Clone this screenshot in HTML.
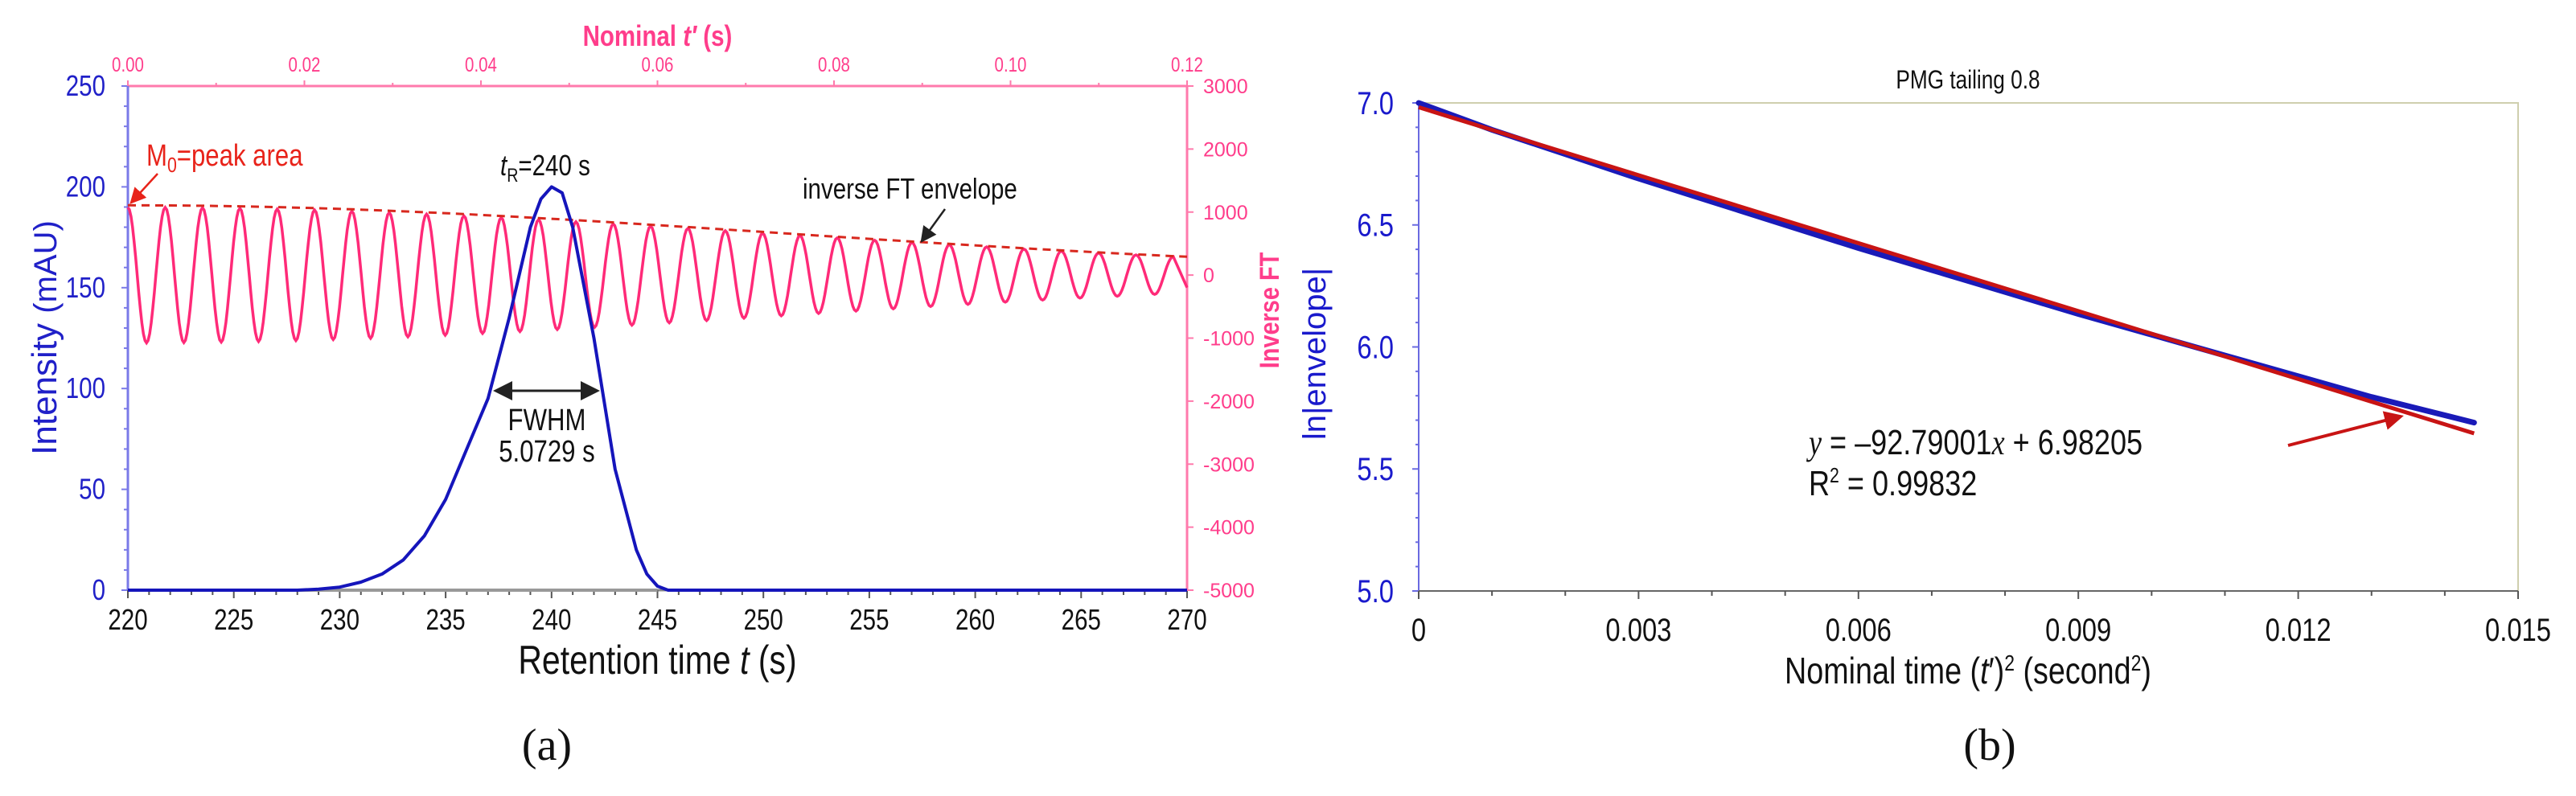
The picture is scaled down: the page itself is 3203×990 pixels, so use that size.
<!DOCTYPE html>
<html><head><meta charset="utf-8">
<style>
html,body{margin:0;padding:0;background:#fff;}
svg{display:block;}
.n{font-family:"Liberation Sans Narrow","Liberation Sans",sans-serif;}
.s{font-family:"Liberation Sans",sans-serif;}
.sf{font-family:"Liberation Serif",serif;}
</style></head>
<body>
<svg id="fig" width="3203" height="990" viewBox="0 0 3203 990" xmlns="http://www.w3.org/2000/svg">
<defs>
<marker id="arrK" markerWidth="8" markerHeight="8" refX="7" refY="4" orient="auto" markerUnits="strokeWidth"><path d="M0,0 L8,4 L0,8 z" fill="#222"/></marker>
<marker id="arrKs" markerWidth="8" markerHeight="8" refX="1" refY="4" orient="auto" markerUnits="strokeWidth"><path d="M8,0 L0,4 L8,8 z" fill="#222"/></marker>
<marker id="arrR" markerWidth="8" markerHeight="8" refX="7" refY="4" orient="auto" markerUnits="strokeWidth"><path d="M0,0 L8,4 L0,8 z" fill="#e8231a"/></marker>
<marker id="arrD" markerWidth="6" markerHeight="6" refX="5" refY="3" orient="auto" markerUnits="strokeWidth"><path d="M0,0 L6,3 L0,6 z" fill="#c81414"/></marker>
</defs>
<g id="chartA"></g>
<g id="chartB"></g>

<text class="sf" x="680" y="945" font-size="56" text-anchor="middle" fill="#111">(a)</text>
<text class="sf" x="2474" y="945" font-size="56" text-anchor="middle" fill="#111">(b)</text>
</svg>
<script>
// ---------- Chart A data ----------
const peakTimes = [220,228,229,230,231,232,233,234,235,236,237,238,239,239.5,240,240.5,241,242,243,244,244.5,245,245.5,246,270];
const peakIntensity = [0,0,0.5,1.5,4,8,15,27,45,70,95,135,180,194,200,197,180,125,60,20,8,2,0,0,0];
const ftStep = 0.002115;
const ftAmplitudes = [1075,1075,1073,1071,1068,1064,1059,1053,1047,1040,1032,1023,1013,1002,991,979,967,954,940,926,911,895,879,863,846,829,812,794,776,758,740,722,703,684,665,646,627,608,590,571,553,535,517,499,481,464,447,430,413,397,381,365,350,335,320,306,292];
const leftTicks = [0,50,100,150,200,250];
const bottomTicks = [220,225,230,235,240,245,250,255,260,265,270];
const topTicks = ["0.00","0.02","0.04","0.06","0.08","0.10","0.12"];
const rightTicks = [3000,2000,1000,0,-1000,-2000,-3000,-4000,-5000];
// ---------- Chart B data ----------
const envX = [0,0.0005,0.001,0.002,0.003,0.004,0.005,0.006,0.007,0.008,0.009,0.010,0.011,0.012,0.013,0.0144];
const envY = [7.0,6.945,6.89,6.79,6.69,6.595,6.50,6.405,6.315,6.225,6.135,6.05,5.965,5.88,5.795,5.69];
const fitSlope = -92.79001, fitIntercept = 6.98205;
const fitX = [0,0.0144];
const bXTicks = ["0","0.003","0.006","0.009","0.012","0.015"];
const bYTicks = ["5.0","5.5","6.0","6.5","7.0"];

const NS="http://www.w3.org/2000/svg";
function mk(parent,tag,attrs,text){const e=document.createElementNS(NS,tag);for(const k in attrs)e.setAttribute(k,attrs[k]);if(text!==undefined)e.textContent=text;parent.appendChild(e);return e;}

// ===== Chart A =====
(function(){
const g=document.getElementById('chartA');
const L=159,R=1476,T=107,B=734;
const xS=t=>L+(t-220)/50*(R-L);
const yS=v=>B-v/250*(B-T);
const tpS=t=>L+t/0.12*(R-L);
const yR=v=>B-(v+5000)/8000*(B-T);
const BLUE="#2020c8", PINK="#ff3d8b";
let e;
e=mk(g,'line',{x1:L,y1:T,x2:R,y2:T,stroke:"#ff7aac","stroke-width":3});

e=mk(g,'line',{x1:R,y1:T,x2:R,y2:B,stroke:"#ff7aac","stroke-width":3});

e=mk(g,'line',{x1:L,y1:T,x2:L,y2:B,stroke:"#7a7ae8","stroke-width":3});

e=mk(g,'line',{x1:L,y1:B,x2:R,y2:B,stroke:"#888","stroke-width":3});

for(let v=0;v<=250;v+=10){const y=yS(v);const major=v%50===0;
 e=mk(g,'line',{x1:L-(major?8:5),y1:y,x2:L,y2:y,stroke:"#7a7ae8","stroke-width":2});
 }
leftTicks.forEach(v=>{e=mk(g,'text',{x:131,y:yS(v)+12,"font-size":36,"text-anchor":"end",fill:BLUE,class:"n"},String(v));
 });
for(let t=220;t<=270;t+=1){const x=xS(t);const major=t%5===0;
 e=mk(g,'line',{x1:x,y1:B,x2:x,y2:B+(major?10:6),stroke:"#555","stroke-width":2});
 }
bottomTicks.forEach(t=>{e=mk(g,'text',{x:xS(t),y:783,"font-size":36,"text-anchor":"middle",fill:"#111",class:"n"},String(t));
 });
for(let i=0;i<=12;i++){const x=tpS(i*0.01);
 e=mk(g,'line',{x1:x,y1:T,x2:x,y2:T-(i%2===0?7:4),stroke:"#ff7aac","stroke-width":2});
 }
topTicks.forEach(s=>{e=mk(g,'text',{x:tpS(parseFloat(s)),y:89,"font-size":25,"text-anchor":"middle",fill:PINK,class:"n"},s);
 });
rightTicks.forEach(v=>{const y=yR(v);
 e=mk(g,'line',{x1:R,y1:y,x2:R+8,y2:y,stroke:"#ff7aac","stroke-width":2});
 
 e=mk(g,'text',{x:1496,y:y+9,"font-size":25,fill:PINK,class:"s"},String(v));
 });
e=mk(g,'text',{x:xS(245),y:838,"font-size":50,"text-anchor":"middle",fill:"#111",class:"n"});
e.innerHTML='Retention time <tspan font-style="italic">t</tspan> (s)';

e=mk(g,'text',{x:0,y:0,"font-size":44,"text-anchor":"middle",fill:BLUE,class:"s",transform:"translate(70,420) rotate(-90)"});
e.innerHTML='Intensity <tspan font-size="40">(mAU)</tspan>';

e=mk(g,'text',{x:xS(245),y:57,"font-size":36,"font-weight":"bold","text-anchor":"middle",fill:PINK,class:"n"});
e.innerHTML='Nominal <tspan font-style="italic">t′</tspan> (s)';

e=mk(g,'text',{x:0,y:0,"font-size":34,"font-weight":"bold","text-anchor":"middle",fill:PINK,class:"n",transform:"translate(1590,386) rotate(-90) scale(0.85,1)"},'Inverse FT');


let d="";
for(let k=0;k<ftAmplitudes.length;k++){
 const a0=ftAmplitudes[k]*(k%2===0?1:-1);
 const k1=Math.min(k+1,ftAmplitudes.length-1);
 const a1=ftAmplitudes[k1]*(k1%2===0?1:-1);
 const steps=12;
 for(let s=0;s<(k===ftAmplitudes.length-1?1:steps);s++){
  const f=s/steps; const w=(1-Math.cos(Math.PI*f))/2;
  const tp=(k+f)*ftStep; if(tp>0.12) break;
  const v=a0+(a1-a0)*w;
  d+=(d?"L":"M")+tpS(tp).toFixed(1)+","+yR(v).toFixed(1);
 }
}
{const kEnd=0.12/ftStep;const k=Math.floor(kEnd);const f=kEnd-k;
 const a0=ftAmplitudes[Math.min(k,ftAmplitudes.length-1)]*(k%2===0?1:-1);
 const a1=ftAmplitudes[Math.min(k+1,ftAmplitudes.length-1)]*((k+1)%2===0?1:-1);
 const w=(1-Math.cos(Math.PI*f))/2; d+="L"+tpS(0.12).toFixed(1)+","+yR(a0+(a1-a0)*w).toFixed(1);}
e=mk(g,'path',{d:d,fill:"none",stroke:"#ff2a78","stroke-width":3.5});

let de="";
for(let k=0;k<ftAmplitudes.length;k+=2){de+=(de?"L":"M")+tpS(k*ftStep).toFixed(1)+","+yR(ftAmplitudes[k]*1.03).toFixed(1);}
de+="L"+tpS(0.12).toFixed(1)+","+yR(ftAmplitudes[ftAmplitudes.length-1]*1.0).toFixed(1);
e=mk(g,'path',{d:de,fill:"none",stroke:"#d8281e","stroke-width":3,"stroke-dasharray":"10,7"});

e=mk(g,'line',{x1:xS(228),y1:B,x2:xS(245),y2:B,stroke:"#999","stroke-width":4});

let dp=peakTimes.map((t,i)=>(i?"L":"M")+xS(t).toFixed(1)+","+yS(peakIntensity[i]).toFixed(1)).join("");
e=mk(g,'path',{d:dp,fill:"none",stroke:"#1515bb","stroke-width":4,"stroke-linejoin":"round"});

e=mk(g,'text',{x:182,y:206,"font-size":38,fill:"#e8231a",class:"n"});
e.innerHTML='M<tspan font-size="26" dy="8">0</tspan><tspan dy="-8">=peak area</tspan>';

e=mk(g,'line',{x1:196,y1:216,x2:163,y2:252,stroke:"#e8231a","stroke-width":2.5,"marker-end":"url(#arrR)"});

e=mk(g,'text',{x:622,y:218,"font-size":36,fill:"#111",class:"n"});
e.innerHTML='<tspan font-style="italic">t</tspan><tspan font-size="24" dy="8">R</tspan><tspan dy="-8">=240 s</tspan>';

e=mk(g,'text',{x:998,y:247,"font-size":36,fill:"#111",class:"n"},'inverse FT envelope');

e=mk(g,'line',{x1:1175,y1:260,x2:1146,y2:300,stroke:"#222","stroke-width":2.5,"marker-end":"url(#arrK)"});

e=mk(g,'line',{x1:616,y1:486,x2:743,y2:486,stroke:"#222","stroke-width":3,"marker-end":"url(#arrK)","marker-start":"url(#arrKs)"});

e=mk(g,'text',{x:680,y:535,"font-size":38,"text-anchor":"middle",fill:"#111",class:"n"},'FWHM');

e=mk(g,'text',{x:680,y:574,"font-size":38,"text-anchor":"middle",fill:"#111",class:"n"},'5.0729 s');

})();

// ===== Chart B =====
(function(){
const g=document.getElementById('chartB');
const L=1764,R=3131,T=128,B=735;
const xS=v=>L+v/0.015*(R-L);
const yS=v=>B-(v-5)/2*(B-T);
let e;
e=mk(g,'rect',{x:L,y:T,width:R-L,height:B-T,fill:"none",stroke:"#cfcfae","stroke-width":2});

e=mk(g,'line',{x1:L,y1:T,x2:L,y2:B,stroke:"#6a6ae0","stroke-width":2});

e=mk(g,'line',{x1:L,y1:B,x2:R,y2:B,stroke:"#666","stroke-width":2});

for(let i=0;i<=20;i++){const y=yS(5+i*0.1);
 e=mk(g,'line',{x1:L-(i%5===0?8:4),y1:y,x2:L,y2:y,stroke:"#6a6ae0","stroke-width":2});
 }
for(let i=0;i<=15;i++){const x=xS(i*0.001);
 e=mk(g,'line',{x1:x,y1:B,x2:x,y2:B+(i%3===0?10:6),stroke:"#555","stroke-width":2});
 }
bYTicks.forEach(s=>{e=mk(g,'text',{x:1733,y:yS(parseFloat(s))+14,"font-size":40,"text-anchor":"end",fill:"#1a1acc",class:"n"},s);
 });
bXTicks.forEach(s=>{e=mk(g,'text',{x:xS(parseFloat(s)),y:797,"font-size":40,"text-anchor":"middle",fill:"#111",class:"n"},s);
 });
e=mk(g,'text',{x:2447,y:110,"font-size":32,"text-anchor":"middle",fill:"#111",class:"n"},'PMG tailing 0.8');

e=mk(g,'text',{x:2447,y:850,"font-size":46,"text-anchor":"middle",fill:"#111",class:"n"});
e.innerHTML='Nominal time (<tspan font-style="italic">t</tspan>′)<tspan font-size="28" dy="-16">2</tspan><tspan dy="16"> (second</tspan><tspan font-size="28" dy="-16">2</tspan><tspan dy="16">)</tspan>';

e=mk(g,'text',{x:0,y:0,"font-size":40,"text-anchor":"middle",fill:"#1a1acc",class:"s",transform:"translate(1648,440) rotate(-90)"},'ln|envelope|');

let d=envX.map((x,i)=>(i?"L":"M")+xS(x).toFixed(1)+","+yS(envY[i]).toFixed(1)).join("");
e=mk(g,'path',{d:d,fill:"none",stroke:"#1a1ab8","stroke-width":7,"stroke-linecap":"round"});

let df=fitX.map((x,i)=>(i?"L":"M")+xS(x).toFixed(1)+","+yS(fitSlope*x+fitIntercept).toFixed(1)).join("");
e=mk(g,'path',{d:df,fill:"none",stroke:"#c81414","stroke-width":5});

e=mk(g,'text',{x:2249,y:565,"font-size":44,fill:"#111",class:"n"});
e.innerHTML='<tspan font-style="italic" font-family="Liberation Serif">y</tspan> = –92.79001<tspan font-style="italic" font-family="Liberation Serif">x</tspan> + 6.98205';

e=mk(g,'text',{x:2249,y:616,"font-size":44,fill:"#111",class:"n"});
e.innerHTML='R<tspan font-size="26" dy="-16">2</tspan><tspan dy="16"> = 0.99832</tspan>';

e=mk(g,'line',{x1:2845,y1:554,x2:2985,y2:518,stroke:"#c81414","stroke-width":4,"marker-end":"url(#arrD)"});

})();

// condense narrow-style text (Arial Narrow look)
document.querySelectorAll('text.n').forEach(t=>{
 if(t.getAttribute('transform')) return;
 const x=parseFloat(t.getAttribute('x'));
 t.setAttribute('transform','translate('+x+',0) scale(0.82,1) translate('+(-x)+',0)');
});
</script>
</body></html>
